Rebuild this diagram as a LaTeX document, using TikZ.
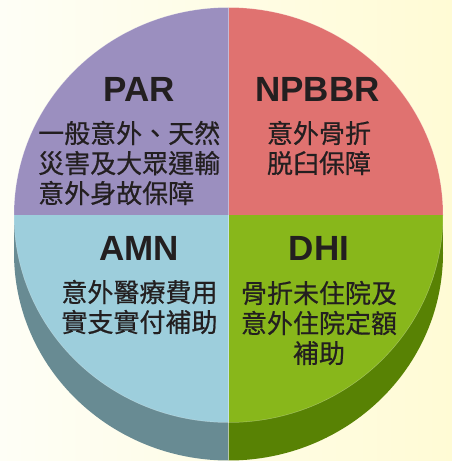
\documentclass[tikz,border=0pt]{standalone}
\usepackage{fontspec}
\setmainfont{Liberation Sans}
\newfontfamily\cjk[FakeBold=0.6]{Noto Sans CJK TC}

\definecolor{bgLeft}{HTML}{FEFEF6}
\definecolor{bgRight}{HTML}{FFFBD5}
\definecolor{parPurple}{HTML}{9B8FBF}
\definecolor{npbbrRed}{HTML}{E07270}
\definecolor{amnBlue}{HTML}{9DCEDC}
\definecolor{dhiGreen}{HTML}{88B71B}
\definecolor{sideBlue}{HTML}{688B93}
\definecolor{sideGreen}{HTML}{588204}
\definecolor{txtDark}{HTML}{231F20}

\begin{document}
\begin{tikzpicture}[x=1pt,y=-1pt,
    code/.style={font=\fontsize{35}{35}\selectfont\bfseries, text=txtDark, inner sep=0pt},
    desc/.style={font=\cjk\fontsize{26}{30}\selectfont, text=txtDark, inner sep=0pt, align=center}]
        \useasboundingbox (0,0) rectangle (452,461);
        \shade[left color=bgLeft, right color=bgRight] (0,0) rectangle (452,461);

        % side of the pie
        \begin{scope}
            \clip (0,215) rectangle (228.5,461);
            \fill[sideBlue] (14,215) rectangle (228.5,253);
            \fill[sideBlue] (228.5,253) ellipse [x radius=214.5, y radius=207.5];
        \end{scope}
        \begin{scope}
            \clip (228.5,215) rectangle (452,461);
            \fill[sideGreen] (228.5,215) rectangle (443,253);
            \fill[sideGreen] (228.5,253) ellipse [x radius=214.5, y radius=207.5];
        \end{scope}

        % top of the pie
        \begin{scope}
            \clip (228.5,215) ellipse [x radius=214.5, y radius=207.5];
            \fill[parPurple] (0,0) rectangle (228.5,215);
            \fill[npbbrRed] (228.5,0) rectangle (452,215);
            \fill[amnBlue] (0,215) rectangle (228.5,461);
            \fill[dhiGreen] (228.5,215) rectangle (452,461);
        \end{scope}
        \draw[white, opacity=.3, line width=.5pt] (228.5,215) ellipse [x radius=214.5, y radius=207.5];
        \draw[white, opacity=.4, line width=.6pt] (228.5,8) -- (228.5,461);

        \node[code] (par) at (139.5,89) {PAR};
        \node[desc, align=left, anchor=west] (parText) at (38,163) {一般意外、天然\\災害及大眾運輸\\意外身故保障};
        \node[code] (npbbr) at (317.5,89) {NPBBR};
        \node[desc] (npbbrText) at (319,148) {意外骨折\\脱臼保障};
        \node[code] (amn) at (139,248) {AMN};
        \node[desc] (amnText) at (139.5,307) {意外醫療費用\\實支實付補助};
        \node[code] (dhi) at (319,248) {DHI};
        \node[desc] (dhiText) at (319,323) {骨折未住院及\\意外住院定額\\補助};
\end{tikzpicture}
\end{document}
